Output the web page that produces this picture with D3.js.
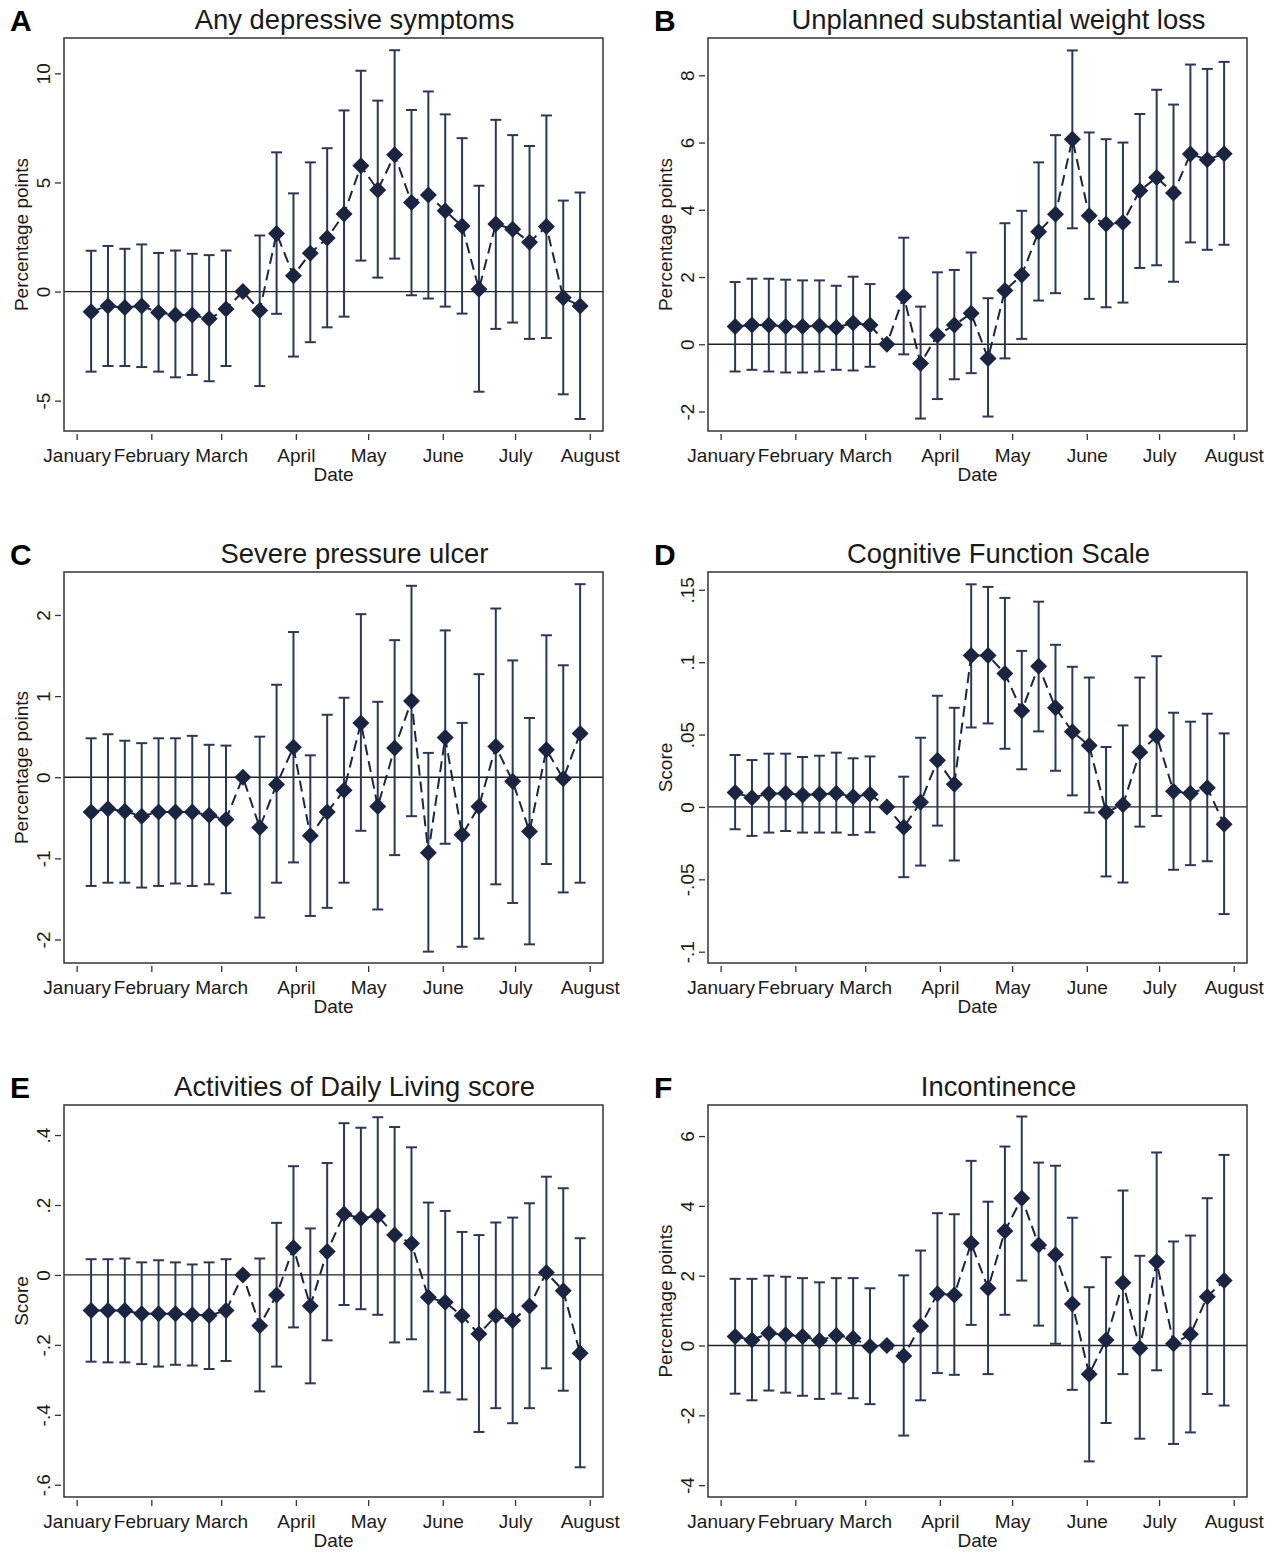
<!DOCTYPE html>
<html>
<head>
<meta charset="utf-8">
<script src="https://cdnjs.cloudflare.com/ajax/libs/d3/7.8.5/d3.min.js"></script>
<style>
  html, body { margin: 0; padding: 0; background: #fff; }
  svg { display: block; font-family: "Liberation Sans", Arial, sans-serif; }
</style>
</head>
<body>
<svg id="chart" width="1280" height="1552"></svg>
<script>
// ---------- DATA ----------
const weeks = ["2020-01-07","2020-01-14","2020-01-21","2020-01-28","2020-02-04","2020-02-11","2020-02-18","2020-02-25","2020-03-03","2020-03-10",
  "2020-03-17","2020-03-24","2020-03-31","2020-04-07","2020-04-14","2020-04-21","2020-04-28","2020-05-05","2020-05-12","2020-05-19",
  "2020-05-26","2020-06-02","2020-06-09","2020-06-16","2020-06-23","2020-06-30","2020-07-07","2020-07-14","2020-07-21","2020-07-28"];
const monthTicks = ["2020-01-01","2020-02-01","2020-03-01","2020-04-01","2020-05-01","2020-06-01","2020-07-01","2020-08-01"];
const monthLabels = ["January","February","March","April","May","June","July","August"];

const panelLetters = ["A","B","C","D","E","F"];
const panelTitles = ["Any depressive symptoms","Unplanned substantial weight loss","Severe pressure ulcer",
  "Cognitive Function Scale","Activities of Daily Living score","Incontinence"];
const yTitles = ["Percentage points","Percentage points","Percentage points","Score","Score","Percentage points"];

const yTicksA = [-5,0,5,10];            const yTickLabelsA = ["-5","0","5","10"];
const yTicksB = [-2,0,2,4,6,8];         const yTickLabelsB = ["-2","0","2","4","6","8"];
const yTicksC = [-2,-1,0,1,2];          const yTickLabelsC = ["-2","-1","0","1","2"];
const yTicksD = [-0.1,-0.05,0,0.05,0.1,0.15]; const yTickLabelsD = ["-.1","-.05","0",".05",".1",".15"];
const yTicksE = [-0.6,-0.4,-0.2,0,0.2,0.4];   const yTickLabelsE = ["-.6","-.4","-.2","0",".2",".4"];
const yTicksF = [-4,-2,0,2,4,6];        const yTickLabelsF = ["-4","-2","0","2","4","6"];

const yDomainA = [-6.39, 11.62];
const yDomainB = [-2.58, 9.11];
const yDomainC = [-2.29, 2.53];
const yDomainD = [-0.1078, 0.1623];
const yDomainE = [-0.635, 0.486];
const yDomainF = [-4.34, 6.89];

const estA = [-0.92,-0.66,-0.73,-0.66,-0.96,-1.07,-1.07,-1.25,-0.80,0,-0.87,2.66,0.73,1.76,2.45,3.56,5.76,4.66,6.27,4.08,4.43,3.70,3.00,0.11,3.10,2.86,2.26,2.98,-0.28,-0.66];
const loA  = [-3.67,-3.41,-3.41,-3.46,-3.67,-3.93,-3.82,-4.11,-3.41,null,-4.33,-1.02,-2.98,-2.32,-1.64,-1.15,1.42,0.64,1.51,-0.17,-0.32,-0.69,-1.01,-4.59,-1.71,-1.42,-2.17,-2.13,-4.71,-5.84];
const hiA  = [1.87,2.09,1.96,2.16,1.77,1.88,1.73,1.67,1.88,null,2.57,6.38,4.50,5.92,6.57,8.30,10.12,8.75,11.06,8.32,9.17,8.12,7.03,4.85,7.87,7.17,6.67,8.07,4.17,4.54];

const estB = [0.53,0.57,0.57,0.53,0.53,0.55,0.50,0.63,0.57,0,1.42,-0.57,0.27,0.57,0.92,-0.42,1.60,2.06,3.35,3.87,6.10,3.82,3.58,3.62,4.57,4.96,4.50,5.66,5.49,5.67];
const loB  = [-0.81,-0.76,-0.81,-0.84,-0.84,-0.81,-0.76,-0.78,-0.67,null,-0.30,-2.21,-1.63,-1.04,-0.86,-2.15,-0.42,0.16,1.30,1.52,3.45,1.35,1.10,1.24,2.27,2.35,1.86,3.03,2.81,2.96];
const hiB  = [1.85,1.95,1.95,1.92,1.90,1.90,1.74,2.01,1.79,null,3.17,1.12,2.14,2.21,2.73,1.37,3.60,3.97,5.41,6.22,8.74,6.30,6.10,6.00,6.85,7.57,7.13,8.32,8.19,8.40];

const estC = [-0.43,-0.39,-0.42,-0.48,-0.43,-0.43,-0.43,-0.47,-0.52,0,-0.62,-0.09,0.37,-0.72,-0.43,-0.16,0.67,-0.36,0.36,0.94,-0.93,0.49,-0.71,-0.36,0.38,-0.05,-0.67,0.34,-0.02,0.54];
const loC  = [-1.34,-1.30,-1.30,-1.36,-1.34,-1.31,-1.34,-1.32,-1.43,null,-1.73,-1.30,-1.05,-1.71,-1.61,-1.30,-0.66,-1.63,-0.96,-0.48,-2.15,-0.82,-2.09,-1.99,-1.32,-1.55,-2.06,-1.07,-1.42,-1.30];
const hiC  = [0.48,0.53,0.45,0.42,0.48,0.48,0.51,0.40,0.39,null,0.50,1.14,1.79,0.27,0.77,0.98,2.01,0.93,1.69,2.36,0.30,1.81,0.67,1.27,2.08,1.44,0.73,1.75,1.38,2.38];

const estD = [0.0099,0.0064,0.0092,0.0094,0.0083,0.0087,0.0094,0.0071,0.0087,0,-0.014,0.0032,0.0322,0.0156,0.1046,0.1046,0.0922,0.0664,0.0972,0.0685,0.052,0.0425,-0.0037,0.0016,0.0377,0.049,0.0108,0.0094,0.0133,-0.012];
const loD  = [-0.0154,-0.020,-0.0177,-0.0166,-0.0177,-0.0177,-0.0177,-0.0193,-0.0175,null,-0.0485,-0.0405,-0.0129,-0.037,0.0549,0.0577,0.0402,0.026,0.0522,0.025,0.008,-0.0039,-0.048,-0.0522,-0.0136,-0.0062,-0.0434,-0.0402,-0.0375,-0.074];
const hiD  = [0.0359,0.0324,0.0368,0.0368,0.0345,0.0354,0.0375,0.0336,0.0349,null,0.0209,0.0478,0.0768,0.0685,0.1538,0.1520,0.1444,0.1078,0.1418,0.112,0.0968,0.0894,0.0414,0.0563,0.0894,0.1041,0.0651,0.0589,0.0644,0.0508];

const estE = [-0.102,-0.102,-0.102,-0.111,-0.111,-0.111,-0.114,-0.116,-0.102,0,-0.145,-0.057,0.078,-0.089,0.067,0.174,0.162,0.169,0.114,0.090,-0.064,-0.078,-0.117,-0.169,-0.117,-0.130,-0.089,0.007,-0.045,-0.224];
const loE  = [-0.248,-0.250,-0.250,-0.255,-0.262,-0.257,-0.259,-0.269,-0.246,null,-0.333,-0.262,-0.150,-0.310,-0.187,-0.086,-0.098,-0.114,-0.193,-0.184,-0.333,-0.336,-0.356,-0.449,-0.381,-0.424,-0.381,-0.267,-0.331,-0.550];
const hiE  = [0.045,0.045,0.047,0.036,0.042,0.036,0.030,0.036,0.045,null,0.047,0.149,0.311,0.133,0.320,0.434,0.421,0.451,0.423,0.365,0.207,0.183,0.123,0.114,0.150,0.164,0.205,0.281,0.248,0.105];

const estF = [0.26,0.16,0.35,0.31,0.26,0.14,0.29,0.21,-0.03,0,-0.30,0.56,1.48,1.45,2.93,1.64,3.28,4.22,2.88,2.60,1.19,-0.82,0.16,1.80,-0.08,2.40,0.05,0.32,1.40,1.86];
const loF  = [-1.38,-1.57,-1.29,-1.35,-1.44,-1.53,-1.38,-1.51,-1.68,null,-2.58,-1.57,-0.79,-0.84,0.59,-0.82,0.88,1.86,0.57,0.05,-1.27,-3.32,-2.22,-0.82,-2.67,-0.71,-2.82,-2.49,-1.39,-1.72];
const hiF  = [1.91,1.91,2.00,1.97,1.93,1.81,1.93,1.93,1.64,null,2.01,2.72,3.79,3.76,5.29,4.12,5.70,6.56,5.24,5.15,3.66,1.67,2.53,4.44,2.57,5.53,2.98,3.15,4.22,5.46];

// ---------- BUILD PANELS ----------
const panels = [
  {est: estA, lo: loA, hi: hiA, ticks: yTicksA, tickLabels: yTickLabelsA, domain: yDomainA},
  {est: estB, lo: loB, hi: hiB, ticks: yTicksB, tickLabels: yTickLabelsB, domain: yDomainB},
  {est: estC, lo: loC, hi: hiC, ticks: yTicksC, tickLabels: yTickLabelsC, domain: yDomainC},
  {est: estD, lo: loD, hi: hiD, ticks: yTicksD, tickLabels: yTickLabelsD, domain: yDomainD},
  {est: estE, lo: loE, hi: hiE, ticks: yTicksE, tickLabels: yTickLabelsE, domain: yDomainE},
  {est: estF, lo: loF, hi: hiF, ticks: yTicksF, tickLabels: yTickLabelsF, domain: yDomainF}
];
panels.forEach((p, i) => { p.letter = panelLetters[i]; p.title = panelTitles[i]; p.yTitle = yTitles[i]; });

// ---------- LAYOUT ----------
const colX = [[64, 603], [708, 1247]];
const rowY = [[38, 431], [572, 963], [1105, 1497]];
const markColor = "#1b2440";
const barColor = "#2b3854";
const textColor = "#1a1a1a";

const parse = d3.utcParse("%Y-%m-%d");
const weekDates = weeks.map(parse);
const monthDates = monthTicks.map(parse);
const xDomain = [new Date(Date.UTC(2019, 11, 26, 18)), new Date(Date.UTC(2020, 7, 6, 12))];

const svg = d3.select("#chart");

panels.forEach((p, i) => {
  const [x0, x1] = colX[i % 2];
  const [y0, y1] = rowY[Math.floor(i / 2)];
  const x = d3.scaleUtc().domain(xDomain).range([x0, x1]);
  const y = d3.scaleLinear().domain(p.domain).range([y1, y0]);
  const g = svg.append("g");
  const pts = weekDates.map((d, k) => ({d, est: p.est[k], lo: p.lo[k], hi: p.hi[k]}));

  // panel letter
  g.append("text").attr("x", x0 - 54).attr("y", y0 - 7)
    .attr("font-size", 30).attr("font-weight", "bold").attr("fill", "#000").text(p.letter);
  // title
  g.append("text").attr("x", (x0 + x1) / 2 + 21).attr("y", y0 - 9)
    .attr("text-anchor", "middle").attr("font-size", 27.4).attr("fill", textColor).text(p.title);

  // zero line
  g.append("line").attr("x1", x0).attr("x2", x1).attr("y1", y(0)).attr("y2", y(0))
    .attr("stroke", "#222").attr("stroke-width", 1.3);

  // y axis
  const yAxis = d3.axisLeft(y).tickValues(p.ticks).tickSize(6).tickPadding(6)
    .tickFormat((d, k) => p.tickLabels[k]);
  const ya = g.append("g").attr("transform", `translate(${x0 - 3},0)`).call(yAxis);
  ya.select(".domain").remove();
  ya.selectAll(".tick line").attr("stroke", "#333").attr("stroke-width", 1.3);
  ya.selectAll(".tick text")
    .attr("transform", "rotate(-90)")
    .attr("x", 0).attr("y", -11).attr("dy", 0)
    .attr("text-anchor", "middle")
    .attr("font-size", 19).attr("font-family", "Liberation Sans, Arial, sans-serif").attr("fill", textColor);

  // y title
  g.append("text").attr("transform", `translate(${x0 - 36},${(y0 + y1) / 2}) rotate(-90)`)
    .attr("text-anchor", "middle").attr("font-size", 19).attr("fill", textColor).text(p.yTitle);

  // x axis
  const xAxis = d3.axisBottom(x).tickValues(monthDates).tickSize(6).tickPadding(9)
    .tickFormat((d, k) => monthLabels[k]);
  const xa = g.append("g").attr("transform", `translate(0,${y1 + 3})`).call(xAxis);
  xa.select(".domain").remove();
  xa.selectAll(".tick line").attr("stroke", "#333").attr("stroke-width", 1.3);
  xa.selectAll(".tick text").attr("font-size", 19).attr("font-family", "Liberation Sans, Arial, sans-serif").attr("fill", textColor);

  g.append("text").attr("x", (x0 + x1) / 2).attr("y", y1 + 50)
    .attr("text-anchor", "middle").attr("font-size", 19).attr("fill", textColor).text("Date");

  // connecting dashed line
  const line = d3.line().x(d => x(d.d)).y(d => y(d.est));
  g.append("path").datum(pts).attr("d", line).attr("fill", "none")
    .attr("stroke", markColor).attr("stroke-width", 2).attr("stroke-dasharray", "11,6");

  // error bars
  const ci = pts.filter(d => d.lo !== null && d.hi !== null);
  const cap = 5.5;
  g.selectAll("line.bar").data(ci).enter().append("line").attr("class", "bar")
    .attr("x1", d => x(d.d)).attr("x2", d => x(d.d))
    .attr("y1", d => y(d.lo)).attr("y2", d => y(d.hi))
    .attr("stroke", barColor).attr("stroke-width", 2);
  g.selectAll("line.capH").data(ci).enter().append("line").attr("class", "capH")
    .attr("x1", d => x(d.d) - cap).attr("x2", d => x(d.d) + cap)
    .attr("y1", d => y(d.hi)).attr("y2", d => y(d.hi))
    .attr("stroke", barColor).attr("stroke-width", 2);
  g.selectAll("line.capL").data(ci).enter().append("line").attr("class", "capL")
    .attr("x1", d => x(d.d) - cap).attr("x2", d => x(d.d) + cap)
    .attr("y1", d => y(d.lo)).attr("y2", d => y(d.lo))
    .attr("stroke", barColor).attr("stroke-width", 2);

  // diamond markers
  const r = 8.5;
  g.selectAll("path.mk").data(pts).enter().append("path").attr("class", "mk")
    .attr("d", d => {
      const cx = x(d.d), cy = y(d.est);
      return `M${cx},${cy - r}L${cx + r},${cy}L${cx},${cy + r}L${cx - r},${cy}Z`;
    })
    .attr("fill", markColor);

  // plot border
  g.append("rect").attr("x", x0).attr("y", y0).attr("width", x1 - x0).attr("height", y1 - y0)
    .attr("fill", "none").attr("stroke", "#333").attr("stroke-width", 1.5);
});
</script>
</body>
</html>
